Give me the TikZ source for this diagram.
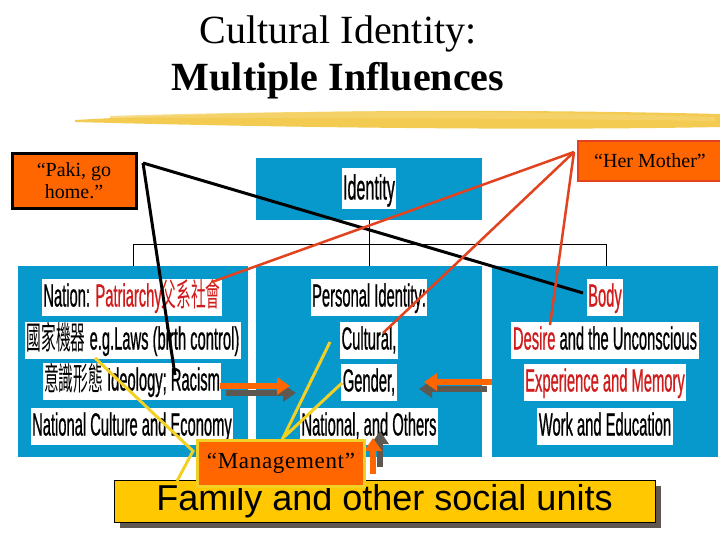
\documentclass[tikz,border=0pt]{standalone}
\usepackage{fontspec}
\setmainfont{Liberation Serif}
\newfontfamily\nar[FakeStretch=0.46,FakeBold=0.6]{Liberation Sans}
\newfontfamily\narcjk[FakeStretch=0.46]{Noto Sans CJK TC}
\newfontfamily\arialf{Liberation Sans}
\newfontfamily\spacedserif[LetterSpace=3]{Liberation Serif}
\usetikzlibrary{arrows.meta,calc}
\definecolor{boxblue}{HTML}{0798CC}
\definecolor{redtxt}{HTML}{D01C1C}
\definecolor{orng}{HTML}{FF6600}
\definecolor{redln}{HTML}{E2421E}
\definecolor{yel}{HTML}{F2D024}
\definecolor{famyel}{HTML}{FFC800}
\definecolor{shad}{HTML}{5E5850}
\definecolor{brush}{HTML}{F0C232}
\newcommand{\rt}[1]{\textcolor{redtxt}{#1}}
\begin{document}
\begin{tikzpicture}[x=1pt,y=-1pt,
  panel/.style={fill=boxblue,draw=none},
  lbl/.style={fill=white,inner xsep=1.5pt,inner ysep=1pt,text height=27pt,text depth=8pt,
    font=\nar\fontsize{32}{32}\selectfont},
  tree/.style={draw=black,line width=1pt},
  blkln/.style={draw=black,line width=3pt},
  redl/.style={draw=redln,line width=2.5pt},
  yell/.style={draw=yel,line width=3pt},
  oarrow/.style={draw=orng,line width=6pt,-{Triangle[length=13pt,width=17pt]}},
  sarrow/.style={draw=shad,line width=6pt,-{Triangle[length=13pt,width=17pt]}},
  callout/.style={fill=orng,font=\fontsize{20}{22}\selectfont,align=center,inner sep=2pt}
]
\useasboundingbox (0,0) rectangle (720,540);
\fill[white] (0,0) rectangle (720,540);

% title
\node (t1) at (338,34) {\fontsize{40}{40}\selectfont Cultural Identity:};
\node (t2) at (338,81) {\fontsize{40}{40}\selectfont\bfseries Multiple Influences};
% brush stroke
\fill[brush,opacity=0.85] (75,120) .. controls (200,113) and (420,107) .. (720,114) -- (720,127)
  .. controls (520,131) and (260,127) .. (75,122) -- cycle;
\fill[brush!70!white,opacity=0.8] (110,116) .. controls (300,110) and (500,110) .. (715,117) -- (715,121)
  .. controls (500,118) and (300,118) .. (110,118) -- cycle;

% panels
\fill[panel] (256,158) rectangle (482,220);
\fill[panel] (18,266) rectangle (248,457);
\fill[panel] (256,266) rectangle (482,457);
\fill[panel] (492,266) rectangle (718,457);

% tree
\coordinate (tb) at (369,220);
\coordinate (tm) at (369,244);
\coordinate (tl) at (133,244);
\coordinate (tr) at (606,244);
\draw[tree] (tb) -- (369,266);
\draw[tree] (tl) -- (tr);
\draw[tree] (tl) -- (133,266);
\draw[tree] (tr) -- (606,266);

% labels
\node[lbl,font=\nar\fontsize{35}{35}\selectfont,text height=30pt,text depth=9pt] (id) at (369,189) {Identity};
\node[lbl] (L1) at (132,297) {Nation: \rt{Patriarchy{\narcjk 父系社會}}};
\node[lbl] (L2) at (133,340) {{\narcjk 國家機器} e.g.Laws (birth control)};
\node[lbl] (L3) at (132,381) {{\narcjk 意識形態} Ideology; Racism};
\node[lbl] (L4) at (132,426) {National Culture and Economy};
\node[lbl] (M1) at (369,297) {Personal Identity:};
\node[lbl] (M2) at (369,340) {Cultural,};
\node[lbl] (M3) at (369,382) {Gender,};
\node[lbl] (M4) at (369,426) {National, and Others};
\node[lbl] (R1) at (605,297) {\rt{Body}};
\node[lbl] (R2) at (605,340) {\rt{Desire} and the Unconscious};
\node[lbl] (R3) at (605,382) {\rt{Experience and Memory}};
\node[lbl] (R4) at (605,426) {Work and Education};

% callouts
\node[callout,draw=black,line width=3pt,minimum width=124pt,minimum height=55pt] (paki) at (74,181) {“Paki, go\\home.”};
\node[callout,draw=redln,line width=2pt,minimum width=144pt,minimum height=40pt] (hm) at (650,161) {“Her Mother”};

% black lines
\coordinate (p0) at (143,163);
\coordinate (pBody) at (583,293);
\coordinate (pRac) at (175,375);
\draw[blkln] (p0) -- (pBody);
\draw[blkln] (p0) -- (pRac);

% red lines
\coordinate (h0) at (574,152);
\coordinate (hPat) at (212,282);
\coordinate (hCul) at (383,333);
\coordinate (hDes) at (550,325);
\draw[redl] (h0) -- (hPat);
\draw[redl] (h0) -- (hCul);
\draw[redl] (h0) -- (hDes);

% orange arrows with shadows
\coordinate (a1s) at (220,386); \coordinate (a1e) at (290,386);
\coordinate (b1s) at (226,393); \coordinate (b1e) at (296,393);
\coordinate (a2s) at (492,382); \coordinate (a2e) at (424,382);
\coordinate (b2s) at (487,389); \coordinate (b2e) at (419,389);
\coordinate (a3s) at (373,474); \coordinate (a3e) at (373,438);
\coordinate (b3s) at (380,467); \coordinate (b3e) at (380,431);
\draw[sarrow] (b1s) -- (b1e);
\draw[oarrow] (a1s) -- (a1e);
\draw[sarrow] (b2s) -- (b2e);
\draw[oarrow] (a2s) -- (a2e);
\draw[sarrow] (b3s) -- (b3e);
\draw[oarrow] (a3s) -- (a3e);

% family box
\fill[shad] (120,486) rectangle (661,528);
\node[fill=famyel,draw=black,line width=1pt,minimum width=541pt,minimum height=42pt,
  font=\arialf\fontsize{36}{36}\selectfont,inner sep=0pt] (fam) at (384.5,501) {Family and other social units};

% yellow lines
\coordinate (y0) at (193,451);
\coordinate (yL) at (95,358);
\coordinate (yB) at (177,481);
\coordinate (y1) at (283,438);
\coordinate (yC) at (330,342);
\coordinate (yG) at (342,383);
\draw[yell] (yL) -- (y0) -- (yB);
\draw[yell] (yC) -- (y1) -- (yG);

% management
\node[callout,draw=yel,line width=3pt,minimum width=167pt,minimum height=46pt,
  font=\spacedserif\fontsize{23}{23}\selectfont] (mg) at (281,463.5) {“Management”};
\end{tikzpicture}
\end{document}
